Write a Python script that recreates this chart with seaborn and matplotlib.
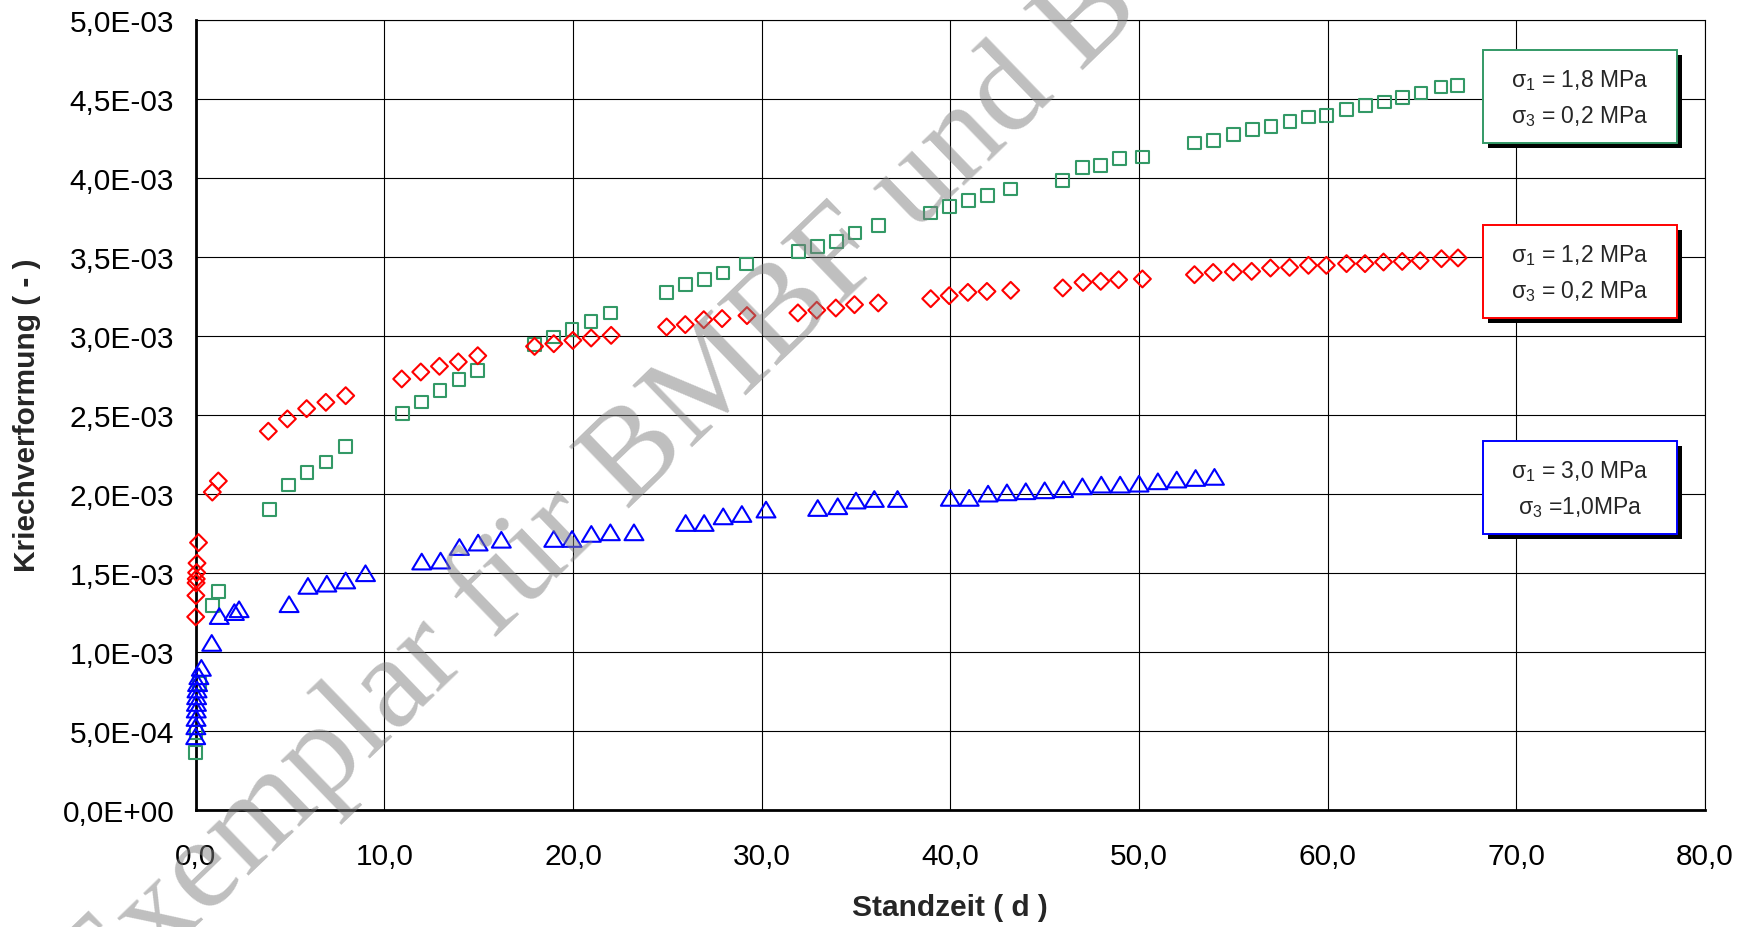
import numpy as np
import pandas as pd
import matplotlib
matplotlib.use("Agg")
import matplotlib.pyplot as plt
import seaborn as sns
from matplotlib.patches import Rectangle
from matplotlib.ticker import FuncFormatter, MultipleLocator
from matplotlib.path import Path

# ---------------- data (strain in 1e-3) ----------------
x_green = [0.0, 0.02, 0.2, 0.88, 1.2, 3.9, 4.9, 5.9, 6.9, 7.95,
           10.95, 11.95, 12.95, 13.95, 14.95, 17.95, 18.95, 19.95, 20.95, 22.0,
           24.95, 25.95, 26.95, 27.95, 29.2, 31.95, 32.95, 33.95, 34.95, 36.2,
           38.95, 39.95, 40.95, 41.95, 43.2, 45.95, 47.0, 47.95, 48.95, 50.2,
           52.95, 53.95, 55.0, 56.0, 57.0, 58.0, 59.0, 59.95, 61.0, 62.0,
           63.0, 63.95, 64.95, 66.0, 66.9]
y_green = [0.36, 0.49, 0.80, 1.29, 1.38, 1.90, 2.055, 2.135, 2.20, 2.30,
           2.506, 2.58, 2.652, 2.722, 2.778, 2.943, 2.992, 3.038, 3.091, 3.144,
           3.274, 3.323, 3.354, 3.396, 3.454, 3.534, 3.565, 3.597, 3.65, 3.696,
           3.776, 3.818, 3.856, 3.886, 3.928, 3.983, 4.065, 4.078, 4.12, 4.131,
           4.219, 4.236, 4.272, 4.304, 4.325, 4.356, 4.384, 4.392, 4.43, 4.457,
           4.479, 4.508, 4.536, 4.574, 4.582]

x_red = [0.0, 0.01, 0.02, 0.03, 0.05, 0.07, 0.15, 0.88, 1.2,
         3.85, 4.86, 5.88, 6.9, 7.95, 10.92, 11.93, 12.92, 13.92, 14.95,
         17.96, 18.98, 19.99, 20.96, 22.02, 24.96, 25.95, 26.93, 27.9, 29.22,
         31.92, 32.92, 33.93, 34.92, 36.18, 38.96, 39.94, 40.93, 41.94, 43.2,
         45.96, 47.03, 47.97, 48.92, 50.18, 52.94, 53.93, 55.0, 55.97, 56.97,
         57.98, 58.98, 59.93, 61.0, 61.98, 62.96, 63.95, 64.9, 66.03, 66.91]
y_red = [1.22, 1.355, 1.435, 1.46, 1.50, 1.56, 1.69, 2.01, 2.08,
         2.395, 2.473, 2.538, 2.578, 2.62, 2.726, 2.77, 2.806, 2.834, 2.873,
         2.932, 2.949, 2.97, 2.985, 3.002, 3.055, 3.07, 3.101, 3.108, 3.127,
         3.144, 3.161, 3.175, 3.196, 3.207, 3.234, 3.253, 3.274, 3.28, 3.287,
         3.302, 3.337, 3.344, 3.354, 3.359, 3.386, 3.40, 3.403, 3.407, 3.428,
         3.432, 3.445, 3.445, 3.456, 3.456, 3.466, 3.47, 3.475, 3.487, 3.492]

x_blue = [0.0, 0.01, 0.02, 0.03, 0.04, 0.05, 0.07, 0.1, 0.17, 0.3,
          0.85, 1.25, 2.05, 2.3, 4.95, 5.95, 6.95, 7.95, 9.0,
          11.98, 12.98, 13.98, 14.97, 16.2, 18.98, 19.95, 20.97, 21.98, 23.23,
          25.97, 26.95, 27.96, 28.95, 30.23, 32.97, 34.03, 35.0, 35.97, 37.2,
          40.0, 41.0, 42.0, 43.0, 44.0, 45.0, 46.0, 47.0, 48.0, 49.0,
          50.0, 51.0, 52.0, 53.0, 54.0]
y_blue = [0.464, 0.527, 0.58, 0.633, 0.675, 0.717, 0.76, 0.80, 0.844, 0.897,
          1.055, 1.225, 1.25, 1.268, 1.30, 1.416, 1.43, 1.45, 1.496,
          1.57, 1.576, 1.662, 1.69, 1.708, 1.713, 1.713, 1.745, 1.755, 1.755,
          1.814, 1.814, 1.856, 1.871, 1.899, 1.909, 1.92, 1.956, 1.966, 1.966,
          1.973, 1.973, 2.0, 2.008, 2.015, 2.021, 2.028, 2.046, 2.057, 2.057,
          2.063, 2.078, 2.089, 2.099, 2.106]

series_names = ["1.8/0.2", "1.2/0.2", "3.0/1.0"]
series_colors = ["#339966", "#FF0000", "#0000FF"]
box_lines = [("σ$_{\\mathregular{1}}$ = 1,8 MPa", "σ$_{\\mathregular{3}}$ = 0,2 MPa"),
             ("σ$_{\\mathregular{1}}$ = 1,2 MPa", "σ$_{\\mathregular{3}}$ = 0,2 MPa"),
             ("σ$_{\\mathregular{1}}$ = 3,0 MPa", "σ$_{\\mathregular{3}}$ =1,0MPa")]
x_ticks_max = 80
y_max = 5e-3
x_label = "Standzeit ( d )"
y_label = "Kriechverformung ( - )"
watermark = "Exemplar für BMBF und BGR"

# ---------------- style ----------------
sns.set_style("white")
plt.rcParams["font.family"] = ["Liberation Sans", "DejaVu Sans"]
plt.rcParams["mathtext.fontset"] = "custom"
plt.rcParams["mathtext.rm"] = "Liberation Sans"
plt.rcParams["mathtext.it"] = "Liberation Sans:italic"
plt.rcParams["mathtext.bf"] = "Liberation Sans:bold"

W, H = 1753, 928
fig = plt.figure(figsize=(W / 100, H / 100), dpi=100)
fig.patch.set_facecolor("white")
L, R, T, B = 195.7, 1705.0, 20.7, 810.6
ax = fig.add_axes([L / W, 1 - B / H, (R - L) / W, (B - T) / H])

tri = Path([(0, 0.83), (-1, -0.83), (1, -0.83), (0, 0.83)],
           [Path.MOVETO, Path.LINETO, Path.LINETO, Path.CLOSEPOLY])
markers = ["s", "D", tri]
sizes = [84, 74, 185]

frames = []
for name, xs, ys in zip(series_names, [x_green, x_red, x_blue], [y_green, y_red, y_blue]):
    frames.append(pd.DataFrame({"t": xs, "eps": np.array(ys) * 1e-3, "serie": name}))
df = pd.concat(frames, ignore_index=True)

for name, col, mk, sz in zip(series_names, series_colors, markers, sizes):
    sub = df[df["serie"] == name]
    sns.scatterplot(data=sub, x="t", y="eps", ax=ax, marker=mk, s=sz,
                    color=col, facecolor="none", edgecolor=col,
                    linewidth=1.5, clip_on=False, zorder=3, legend=False)

ax.set_xlim(0, x_ticks_max)
ax.set_ylim(0, y_max)
ax.xaxis.set_major_locator(MultipleLocator(10))
ax.yaxis.set_major_locator(MultipleLocator(5e-4))
ax.xaxis.set_major_formatter(FuncFormatter(lambda v, p: f"{v:.1f}".replace(".", ",")))
ax.yaxis.set_major_formatter(FuncFormatter(lambda v, p: f"{v:.1E}".replace(".", ",")))
ax.grid(True, color="black", linewidth=0.8)
ax.set_axisbelow(True)
for s in ["left", "bottom"]:
    ax.spines[s].set_linewidth(2.0)
    ax.spines[s].set_color("black")
for s in ["top", "right"]:
    ax.spines[s].set_linewidth(0.8)
    ax.spines[s].set_color("black")
ax.tick_params(axis="both", which="major", direction="out", length=6.5, width=0.8,
               color="#444444", labelsize=21.5, labelcolor="black")
ax.tick_params(axis="y", pad=9)
ax.tick_params(axis="x", pad=17)

ax.set_xlabel(x_label, fontsize=21.5, fontweight="bold")
ax.set_ylabel(y_label, fontsize=21.5, fontweight="bold")
ax.xaxis.set_label_coords(0.5, -(908 - B) / (B - T))
ax.xaxis.label.set_va("center")
ax.yaxis.set_label_coords(-(L - 27) / (R - L), 0.5)
ax.yaxis.label.set_va("center")

# ---------------- annotation boxes ----------------
box_left, box_w, box_h = 1483.0, 194.0, 93.0
box_tops = [50.7, 226.0, 441.7]
for top, col, (l1, l2) in zip(box_tops, series_colors, box_lines):
    sh = Rectangle(((box_left + 5) / W, 1 - (top + box_h + 5) / H), box_w / W, box_h / H,
                   transform=fig.transFigure, facecolor="black", edgecolor="none", zorder=5)
    fig.add_artist(sh)
    rb = Rectangle((box_left / W, 1 - (top + box_h) / H), box_w / W, box_h / H,
                   transform=fig.transFigure, facecolor="white", edgecolor=col,
                   linewidth=1.4, zorder=6)
    fig.add_artist(rb)
    cx = (box_left + box_w / 2) / W
    fig.text(cx, 1 - (top + 36.5) / H, l1, ha="center", va="baseline", fontsize=16.5, zorder=7)
    fig.text(cx, 1 - (top + 72) / H, l2, ha="center", va="baseline", fontsize=16.5, zorder=7)

# ---------------- watermark ----------------
fig.text(100 / W, 1 - 1020 / H, watermark, rotation=44, rotation_mode="anchor",
         ha="left", va="baseline", fontsize=95, family="Liberation Serif",
         color="#808080", alpha=0.5, zorder=10)

fig.savefig("out.png", dpi=100, facecolor="white")
